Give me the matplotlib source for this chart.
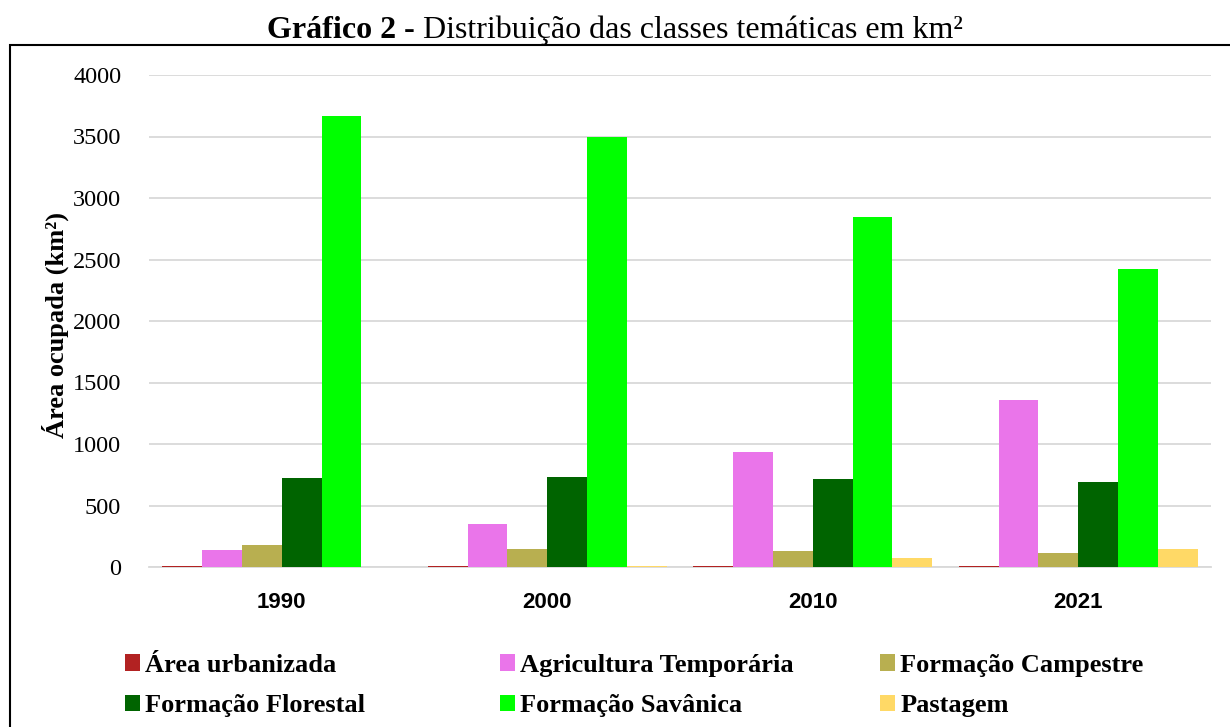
import matplotlib
matplotlib.use("Agg")
import matplotlib.pyplot as plt
import numpy as np
from matplotlib.patches import Rectangle, Patch

years = ["1990", "2000", "2010", "2021"]
classes = ["Área urbanizada", "Agricultura Temporária", "Formação Campestre",
           "Formação Florestal", "Formação Savânica", "Pastagem"]
urbanizada = [5, 5, 5, 5]
agricultura = [138, 350, 935, 1358]
campestre = [179, 146, 130, 114]
florestal = [724, 730, 715, 691]
savanica = [3667, 3496, 2846, 2423]
pastagem = [4, 12, 76, 146]
colors = ["#B22222", "#EA75EA", "#B8AF50", "#006400", "#00FF00", "#FFD966"]

series = [urbanizada, agricultura, campestre, florestal, savanica, pastagem]

plt.rcParams["font.family"] = ["Liberation Serif", "DejaVu Serif"]

W, H = 1230, 727
fig = plt.figure(figsize=(W / 100, H / 100), dpi=100)
ax = fig.add_axes([149 / W, 1 - 567 / H, (1211 - 149) / W, (567 - 75) / H])

# outer chart frame, cut off on the right and bottom like the source
fig.patches.append(Rectangle((10 / W, -0.01), 1.0, (1 - 45 / H) + 0.01,
                             transform=fig.transFigure, fill=False,
                             edgecolor="black", linewidth=1.5))

x = np.arange(len(years))
w = 0.15
for i, (vals, c) in enumerate(zip(series, colors)):
    ax.bar(x + (i - 2.5) * w, vals, width=w, color=c, label=classes[i], zorder=3)

ax.set_xlim(-0.5, 3.5)
ax.set_ylim(0, 4000)
ax.set_yticks(range(0, 4001, 500))
ax.yaxis.grid(True, color="#D9D9D9", linewidth=1.3, zorder=0)
ax.set_axisbelow(True)
for s in ["top", "right", "left"]:
    ax.spines[s].set_visible(False)
ax.spines["bottom"].set_color("#D9D9D9")
ax.spines["bottom"].set_linewidth(1.3)
ax.tick_params(length=0)
ax.tick_params(axis="y", labelsize=17.5, pad=20)
ax.set_xticks(x)
ax.set_xticklabels(years, fontsize=16, fontweight="bold", family="Liberation Sans")
ax.tick_params(axis="x", pad=18)

fig.text(55 / W, 1 - 325 / H, "Área ocupada (km²)", rotation=90, fontsize=19,
         fontweight="bold", ha="center", va="center")

# title: bold prefix followed by regular text
tb = fig.text(267 / W, 1 - 38 / H, "Gráfico 2 -", fontsize=23, fontweight="bold",
              va="baseline")
fig.canvas.draw()
bb = tb.get_window_extent()
fig.text(bb.x1 / fig.bbox.width, 1 - 38 / H, " Distribuição das classes temáticas em km²",
         fontsize=23, va="baseline")

# legend: three columns of two rows each
handles = [Patch(facecolor=c) for c in colors]
col_x = [125, 500, 880]
for j in range(3):
    idx = [j, j + 3]
    leg = fig.legend([handles[k] for k in idx], [classes[k] for k in idx],
                     loc="center left", bbox_to_anchor=(col_x[j] / W, 1 - 685.5 / H),
                     frameon=False, prop={"size": 19, "weight": "bold"},
                     handlelength=0.57, handleheight=0.57, handletextpad=0.2,
                     labelspacing=0.65, borderpad=0, borderaxespad=0)

fig.savefig("out.png", dpi=100)
